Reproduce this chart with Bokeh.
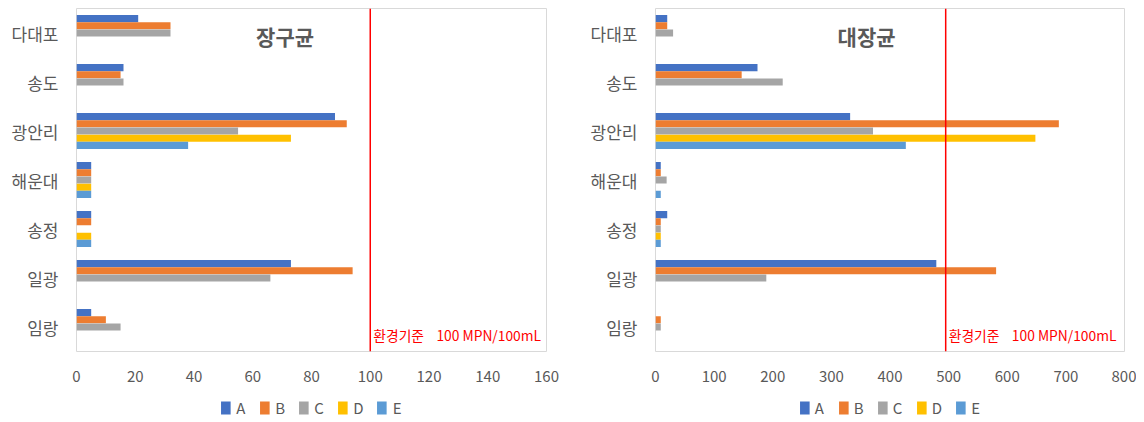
from bokeh.plotting import figure
from bokeh.models import Range1d, FactorRange, Span, Label, Legend, LegendItem, FixedTicker
from bokeh.transform import dodge
from bokeh.layouts import row, column
from bokeh.embed import file_html
from bokeh.resources import INLINE

categories = ["다대포", "송도", "광안리", "해운대", "송정", "일광", "임랑"]
series_names = ["A", "B", "C", "D", "E"]
colors = ["#4472C4", "#ED7D31", "#A5A5A5", "#FFC000", "#5B9BD5"]

# 장구균 (left chart)
ent_A = [21, 16, 88, 5, 5, 73, 5]
ent_B = [32, 15, 92, 5, 5, 94, 10]
ent_C = [32, 16, 55, 5, 0, 66, 15]
ent_D = [0, 0, 73, 5, 5, 0, 0]
ent_E = [0, 0, 38, 5, 5, 0, 0]
ent_ticks = [0, 20, 40, 60, 80, 100, 120, 140, 160]
ent_limit = 100

# 대장균 (right chart)
ecoli_A = [20, 174, 332, 9, 20, 479, 0]
ecoli_B = [20, 147, 688, 9, 9, 581, 9]
ecoli_C = [30, 217, 371, 19, 9, 189, 9]
ecoli_D = [0, 0, 648, 0, 9, 0, 0]
ecoli_E = [0, 0, 427, 9, 9, 0, 0]
ecoli_ticks = [0, 100, 200, 300, 400, 500, 600, 700, 800]
ecoli_limit = 495

limit_text = "환경기준\u00a0\u00a0\u00a0\u00a0100 MPN/100mL"

FONT = "Noto Sans CJK KR"
TXT = "#595959"


def make_chart(title, series, ticks, limit, width, bl, br, title_x):
    p = figure(width=width, height=392, output_backend="svg", toolbar_location=None,
               x_range=Range1d(ticks[0], ticks[-1]),
               y_range=FactorRange(factors=list(reversed(categories))),
               min_border_left=bl, min_border_right=br, min_border_top=8, min_border_bottom=41)
    p.outline_line_color = "#D9D9D9"
    p.outline_line_width = 1
    p.xgrid.visible = False
    p.ygrid.visible = False
    p.background_fill_color = "white"
    p.border_fill_color = "white"

    offsets = [0.294, 0.147, 0.0, -0.147, -0.294]
    data = {"cat": categories}
    for n, vals in zip(series_names, series):
        data[n] = vals
    for n, c, off in zip(series_names, colors, offsets):
        p.hbar(y=dodge("cat", off, range=p.y_range), right=n, left=0, height=0.145,
               source=data, fill_color=c, line_color=None)

    p.xaxis.ticker = FixedTicker(ticks=ticks)
    p.xaxis.axis_line_color = None
    p.xaxis.major_tick_line_color = None
    p.xaxis.minor_tick_line_color = None
    p.xaxis.major_tick_out = 0
    p.xaxis.major_label_standoff = 19
    p.xaxis.major_label_text_font = FONT
    p.xaxis.major_label_text_font_size = "15px"
    p.xaxis.major_label_text_color = TXT

    p.yaxis.axis_line_color = None
    p.yaxis.major_tick_line_color = None
    p.yaxis.major_tick_out = 0
    p.yaxis.major_label_standoff = 18
    p.yaxis.major_label_text_font = FONT
    p.yaxis.major_label_text_font_size = "17px"
    p.yaxis.major_label_text_color = TXT

    p.add_layout(Span(location=limit, dimension="height", line_color="#FF0000", line_width=1.5))
    p.add_layout(Label(x=limit, y=0.33, x_offset=3, text=limit_text,
                       text_font=FONT, text_font_size="13.8px", text_color="#FF0000",
                       text_baseline="middle"))
    p.add_layout(Label(x=title_x, y=6.43, text=title, text_font=FONT, text_font_size="21px",
                       text_font_style="bold", text_color=TXT, text_align="center",
                       text_baseline="middle"))

    # legend strip below the chart (legend swatches only; out-of-view dummy marks)
    lg = figure(width=width, height=30, output_backend="svg", toolbar_location=None,
                x_range=Range1d(0, 1), y_range=Range1d(0, 1),
                min_border_left=bl, min_border_right=br, min_border_top=0, min_border_bottom=0)
    lg.axis.visible = False
    lg.grid.visible = False
    lg.outline_line_color = None
    lg.background_fill_color = "white"
    lg.border_fill_color = "white"
    renderers = []
    for n, c in zip(series_names, colors):
        r = lg.quad(left=[-5], right=[-4], bottom=[-5], top=[-4], fill_color=c, line_color=None)
        renderers.append(r)
    legend = Legend(items=[LegendItem(label=n, renderers=[r]) for n, r in zip(series_names, renderers)],
                    orientation="horizontal", location="center",
                    glyph_width=12, glyph_height=16, label_standoff=5, spacing=12,
                    padding=0, margin=0, label_width=10, label_height=16,
                    label_text_font=FONT, label_text_font_size="15px", label_text_color=TXT,
                    border_line_color=None, background_fill_alpha=0)
    lg.add_layout(legend)
    return column(p, lg, spacing=0)


c1 = make_chart("장구균", [ent_A, ent_B, ent_C, ent_D, ent_E], ent_ticks, ent_limit,
                578, 76, 32, 71)
c2 = make_chart("대장균", [ecoli_A, ecoli_B, ecoli_C, ecoli_D, ecoli_E], ecoli_ticks, ecoli_limit,
                558, 77, 12, 360)

layout = row(c1, c2, spacing=0)
open("out.html", "w").write(file_html(layout, INLINE))
